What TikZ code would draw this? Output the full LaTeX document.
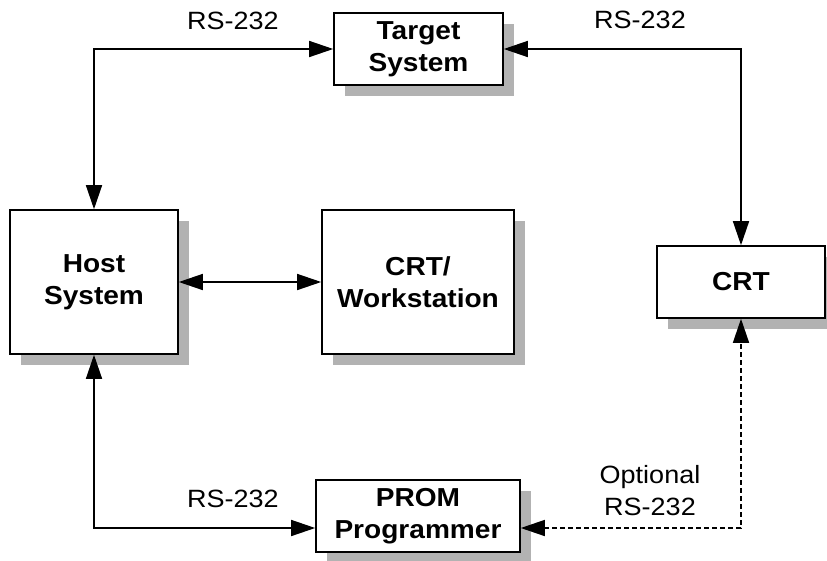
\documentclass[tikz,border=0pt]{standalone}
\usepackage{fontspec}
\setmainfont[FakeStretch=1.08]{Liberation Sans}
\usetikzlibrary{arrows.meta,shadows}
\begin{document}
\begin{tikzpicture}[x=1pt,y=-1pt,
  box/.style={draw,line width=1.6pt,fill=white,align=center,
    font=\fontsize{26}{32}\selectfont\bfseries,inner sep=0pt,
    drop shadow={shadow xshift=11pt,shadow yshift=-11pt,fill=black!30,opacity=1}},
  conn/.style={line width=1.5pt,{Triangle[length=24pt,width=16pt]}-{Triangle[length=24pt,width=16pt]}},
  lbl/.style={font=\fontsize{25}{32}\selectfont,align=center,inner sep=0pt}]
\useasboundingbox (0,0) rectangle (827,560);
\node[box,minimum width=169pt,minimum height=72pt] (T) at (418.5,49) {Target\\System};
\node[box,minimum width=168pt,minimum height=144pt] (H) at (94,282) {Host\\System};
\node[box,minimum width=192pt,minimum height=144pt] (W) at (418,282) {CRT/\\Workstation};
\node[box,minimum width=168pt,minimum height=72pt] (C) at (741,282) {CRT};
\node[box,minimum width=204pt,minimum height=72pt] (P) at (418,516) {PROM\\Programmer};
\coordinate (PW) at ([yshift=-12pt]P.west);
\coordinate (PE) at ([yshift=-12pt]P.east);
\draw[conn] (H.north) |- (T.west);
\draw[conn] (T.east) -| (C.north);
\draw[conn] (H.east) -- (W.west);
\draw[conn] (H.south) |- (PW);
\draw[conn,dashed,dash pattern=on 5pt off 3pt] (PE) -| (C.south);
\node[lbl] (l1) at (233,21) {RS-232};
\node[lbl] (l2) at (640,20) {RS-232};
\node[lbl] (l3) at (233,499) {RS-232};
\node[lbl] (l4) at (650,491) {Optional\\RS-232};
\end{tikzpicture}
\end{document}
